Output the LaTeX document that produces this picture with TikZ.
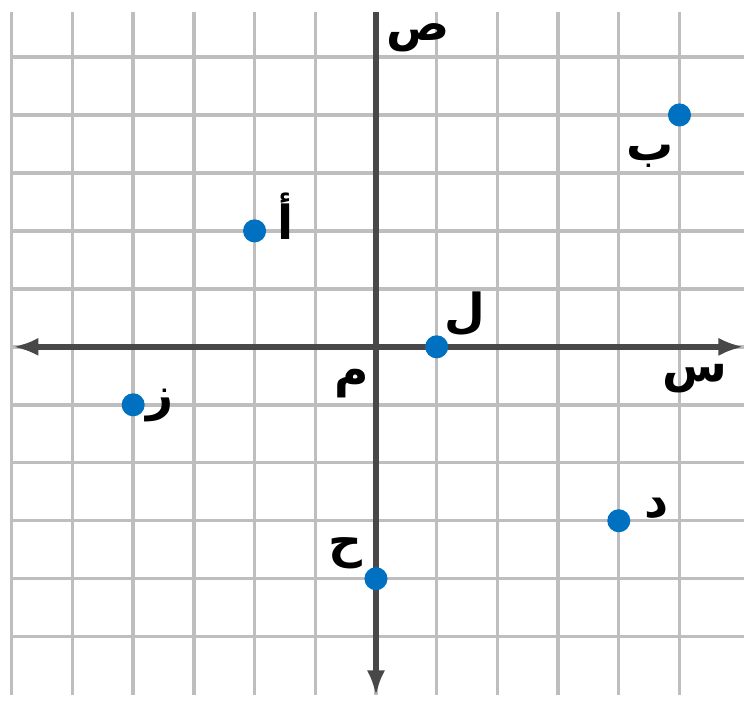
\documentclass[tikz,border=0pt]{standalone}
\usepackage{fontspec}
\newfontfamily\arabicfont[Script=Arabic]{DejaVu Sans}
\TeXXeTstate=1
\usetikzlibrary{arrows.meta,positioning}
\definecolor{dotblue}{RGB}{0,112,192}
\definecolor{gridgrey}{RGB}{190,190,190}
\definecolor{axisgrey}{RGB}{72,72,72}

\begin{document}
\begin{tikzpicture}[x=1cm,y=0.955cm,
  gridline/.style={draw=gridgrey,line width=1.6pt},
  axisline/.style={draw=axisgrey,line width=2.8pt},
  tip/.style={-{Latex[length=0.42cm,width=0.3cm]}},
  dot/.style={circle,fill=dotblue,inner sep=0pt,minimum size=0.38cm},
  lbl/.style={font=\arabicfont\bfseries\fontsize{22}{26}\selectfont,inner sep=0pt}]
  \useasboundingbox (-6.194,-6.12) rectangle (6.063,5.983);
  % grid
  \foreach \x in {-6,...,5}
    \draw[gridline] (\x,-6) -- (\x,5.78);
  \foreach \y in {-5,...,5}
    \draw[gridline] (-6,\y) -- (6.1,\y);
  % axes
  \coordinate (o)  at (0,0);
  \coordinate (xl) at (-5.98,0);
  \coordinate (xr) at (6.06,0);
  \coordinate (yb) at (0,-6.02);
  \coordinate (yt) at (0,5.78);
  \draw[axisline,tip] (o) -- (xl);
  \draw[axisline,tip] (o) -- (xr);
  \draw[axisline,tip] (o) -- (yb);
  \draw[axisline] (o) -- (yt);
  % points
  \node[dot] (A) at (-2,2)  {};
  \node[dot] (B) at (5,4)   {};
  \node[dot] (L) at (1,0)   {};
  \node[dot] (Z) at (-4,-1) {};
  \node[dot] (D) at (4,-3)  {};
  \node[dot] (H) at (0,-4)  {};
  % labels
  \node[lbl] (lA) [xshift=0.51cm,yshift=0.25cm]   at (A)  {\beginR أ\endR};
  \node[lbl] (lB) [xshift=-0.49cm,yshift=-0.68cm] at (B)  {\beginR ب\endR};
  \node[lbl] (lL) [xshift=0.46cm,yshift=0.54cm]   at (L)  {\beginR ل\endR};
  \node[lbl] (lZ) [xshift=0.44cm,yshift=-0.02cm]  at (Z)  {\beginR ز\endR};
  \node[lbl] (lD) [xshift=0.62cm,yshift=0.20cm]   at (D)  {\beginR د\endR};
  \node[lbl] (lH) [xshift=-0.50cm,yshift=0.42cm]  at (H)  {\beginR ح\endR};
  \node[lbl] (lO) [xshift=-0.40cm,yshift=-0.60cm] at (o)  {\beginR م\endR};
  \node[lbl] (lY) [xshift=0.70cm,yshift=-0.42cm]  at (yt) {\beginR ص\endR};
  \node[lbl] (lX) [xshift=-0.81cm,yshift=-0.52cm] at (xr) {\beginR س\endR};
\end{tikzpicture}
\end{document}
